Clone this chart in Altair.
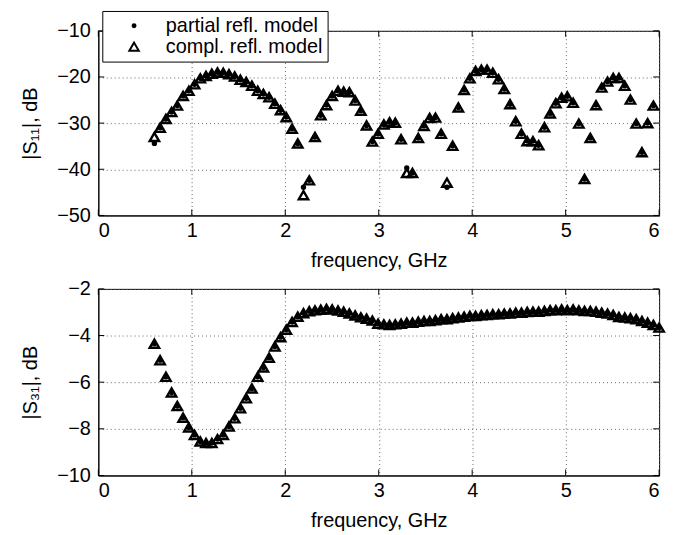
import altair as alt
import pandas as pd

FONT = "Liberation Sans"

# frequency grid (GHz)
freq = [0.600, 0.661, 0.723, 0.784, 0.845, 0.907, 0.968, 1.030, 1.091, 1.152,
        1.214, 1.275, 1.336, 1.398, 1.459, 1.520, 1.582, 1.643, 1.705, 1.766,
        1.827, 1.889, 1.950, 2.011, 2.073, 2.134, 2.195, 2.257, 2.318, 2.380,
        2.441, 2.502, 2.564, 2.625, 2.686, 2.748, 2.809, 2.870, 2.932, 2.993,
        3.055, 3.116, 3.177, 3.239, 3.300, 3.361, 3.423, 3.484, 3.545, 3.607,
        3.668, 3.730, 3.791, 3.852, 3.914, 3.975, 4.036, 4.098, 4.159, 4.220,
        4.282, 4.343, 4.405, 4.466, 4.527, 4.589, 4.650, 4.711, 4.773, 4.834,
        4.895, 4.957, 5.018, 5.080, 5.141, 5.202, 5.264, 5.325, 5.386, 5.448,
        5.509, 5.570, 5.632, 5.693, 5.755, 5.816, 5.877, 5.939, 6.000]

# |S11| in dB
s11_compl = [-33.0, -31.0, -29.1, -27.6, -26.2, -24.1, -23.0, -21.6, -20.3, -19.8,
             -19.3, -19.0, -19.1, -19.4, -19.9, -20.6, -21.1, -21.9, -23.0, -23.7,
             -24.4, -25.8, -27.2, -28.7,
             -31.2, -34.4, -45.6, -42.4, -33.0, -28.3, -26.1, -24.1, -23.0, -23.2,
             -23.3, -25.1, -27.3, -30.5, -34.0, -32.3, -30.3, -29.8, -29.9, -33.5,
             -40.8, -40.8, -33.2, -30.6,
             -28.9, -28.8, -32.3, -42.9, -34.9, -26.6, -22.8, -20.3, -18.7, -18.4,
             -18.4, -19.1, -20.5, -22.6, -25.9, -29.6, -32.3, -33.9, -33.9, -34.8,
             -30.9, -27.9, -25.7, -24.5,
             -24.2, -25.6, -30.1, -42.1, -33.2, -26.1, -22.3, -21.0, -20.2, -20.2,
             -21.9, -24.9, -30.1, -36.3, -30.0, -26.2]
s11_partial = [-34.4, -31.0, -29.1, -27.6, -26.2, -24.1, -23.0, -21.6, -20.3, -19.8,
               -19.3, -19.0, -19.1, -19.4, -19.9, -20.6, -21.1, -21.9, -23.0, -23.7,
               -24.4, -25.8, -27.2, -28.7,
               -31.2, -34.4, -43.9, -42.4, -33.0, -28.3, -26.1, -24.1, -23.0, -23.2,
               -23.3, -25.1, -27.3, -30.5, -34.0, -32.3, -30.3, -29.8, -29.9, -33.5,
               -39.7, -40.8, -33.2, -30.6,
               -28.9, -28.8, -32.3, -43.9, -34.9, -26.6, -22.8, -20.3, -18.7, -18.4,
               -18.4, -19.1, -20.5, -22.6, -25.9, -29.6, -32.3, -33.9, -33.9, -34.8,
               -30.9, -27.9, -25.7, -24.5,
               -24.2, -25.6, -30.1, -42.1, -33.2, -26.1, -22.3, -21.0, -20.2, -20.2,
               -21.9, -24.9, -30.1, -36.3, -30.0, -26.2]

# |S31| in dB
s31_compl = [-4.35, -5.06, -5.77, -6.44, -7.02, -7.52, -7.94, -8.26, -8.54, -8.61,
             -8.61, -8.44, -8.26, -7.90, -7.55, -7.12, -6.69, -6.27, -5.77, -5.37,
             -4.95, -4.47,
             -4.07, -3.75, -3.42, -3.19, -3.04, -2.96, -2.92, -2.89, -2.86, -2.88,
             -2.93, -2.98, -3.05, -3.14, -3.22, -3.28, -3.36,
             -3.49, -3.52, -3.55, -3.52, -3.49, -3.45, -3.45, -3.41, -3.38, -3.38,
             -3.34, -3.30, -3.30, -3.26, -3.23, -3.19, -3.16, -3.16, -3.13, -3.12,
             -3.09, -3.09, -3.06, -3.05, -3.02, -3.02, -2.99, -2.98, -2.98, -2.95,
             -2.91, -2.91, -2.88, -2.91, -2.88, -2.92, -2.95, -2.95, -2.98, -3.02,
             -3.06, -3.12, -3.20, -3.23, -3.26, -3.30, -3.38, -3.45, -3.55, -3.66]
s31_partial = list(s31_compl)

models = ["partial refl. model", "compl. refl. model"]
x_ticks = [0, 1, 2, 3, 4, 5, 6]
s11_ticks = [-50, -40, -30, -20, -10]
s31_ticks = [-10, -8, -6, -4, -2]

W, H1, H2 = 565, 186, 188
TICK = 6


def long_df(partial, compl):
    n = len(compl)
    rows = [{"f": f, "v": v, "model": models[0]} for f, v in zip(freq[:n], partial)]
    rows += [{"f": f, "v": v, "model": models[1]} for f, v in zip(freq[:n], compl)]
    return pd.DataFrame(rows)


def panel(df, yticks, ytitle, h, show_legend):
    xs = alt.Scale(domain=[0, 6], nice=False, zero=False)
    ys = alt.Scale(domain=[yticks[0], yticks[-1]], nice=False, zero=False)
    xaxis = alt.Axis(values=x_ticks, title="frequency, GHz", grid=True, ticks=False,
                     labelPadding=5, titlePadding=10, format="d")
    yaxis = alt.Axis(values=yticks, title=ytitle, grid=True, ticks=False,
                     labelPadding=8, titlePadding=16, format="d")
    if show_legend:
        leg = alt.Legend(title=None, orient="none", legendX=4, legendY=-20,
                         strokeColor="black", fillColor="white", padding=5,
                         labelFont=FONT, labelFontSize=20, labelColor="black",
                         symbolStrokeColor="black", symbolStrokeWidth=2,
                         symbolOffset=17, labelOffset=22, rowPadding=1,
                         symbolOpacity=1, cornerRadius=0)
    else:
        leg = None
    pts = alt.Chart(df).mark_point(filled=False, color="black", stroke="black",
                                   strokeWidth=2.4, opacity=1).encode(
        x=alt.X("f:Q", scale=xs, axis=xaxis),
        y=alt.Y("v:Q", scale=ys, axis=yaxis),
        shape=alt.Shape("model:N", scale=alt.Scale(domain=models, range=["circle", "triangle-up"]),
                        legend=leg),
        fill=alt.Fill("model:N", scale=alt.Scale(domain=models, range=["black", "transparent"]),
                      legend=leg),
        stroke=alt.Stroke("model:N", scale=alt.Scale(domain=models, range=["black", "black"]),
                          legend=leg),
        size=alt.Size("model:N", scale=alt.Scale(domain=models, range=[9, 90]), legend=leg),
    )
    xt = pd.DataFrame({"t": x_ticks})
    yt = pd.DataFrame({"t": yticks})
    tb = alt.Chart(xt).mark_rule(color="black", strokeWidth=1).encode(
        x=alt.X("t:Q", scale=xs, axis=xaxis), y=alt.value(h), y2=alt.value(h - TICK))
    tt = alt.Chart(xt).mark_rule(color="black", strokeWidth=1).encode(
        x=alt.X("t:Q", scale=xs, axis=xaxis), y=alt.value(0), y2=alt.value(TICK))
    tl = alt.Chart(yt).mark_rule(color="black", strokeWidth=1).encode(
        y=alt.Y("t:Q", scale=ys, axis=yaxis), x=alt.value(0), x2=alt.value(TICK))
    tr = alt.Chart(yt).mark_rule(color="black", strokeWidth=1).encode(
        y=alt.Y("t:Q", scale=ys, axis=yaxis), x=alt.value(W - TICK), x2=alt.value(W))
    return alt.layer(tb, tt, tl, tr, pts).properties(width=W, height=h)


top = panel(long_df(s11_partial, s11_compl), s11_ticks, "|S\u2081\u2081|, dB", H1, True)
bot = panel(long_df(s31_partial, s31_compl), s31_ticks, "|S\u2083\u2081|, dB", H2, False)

chart = alt.vconcat(top, bot, spacing=74, bounds="flush").properties(
    padding={"left": 12, "top": 0, "right": 5, "bottom": 5},
    background="white",
).configure_view(stroke="black", strokeWidth=1).configure_axis(
    labelFont=FONT, labelFontSize=20, labelColor="black",
    titleFont=FONT, titleFontSize=20, titleFontWeight="normal", titleColor="black",
    gridColor="#666666", gridDash=[1, 3], gridWidth=1,
    domainColor="black", domainWidth=1,
)

chart.save("out.html", embed_options={"renderer": "svg", "actions": False})
